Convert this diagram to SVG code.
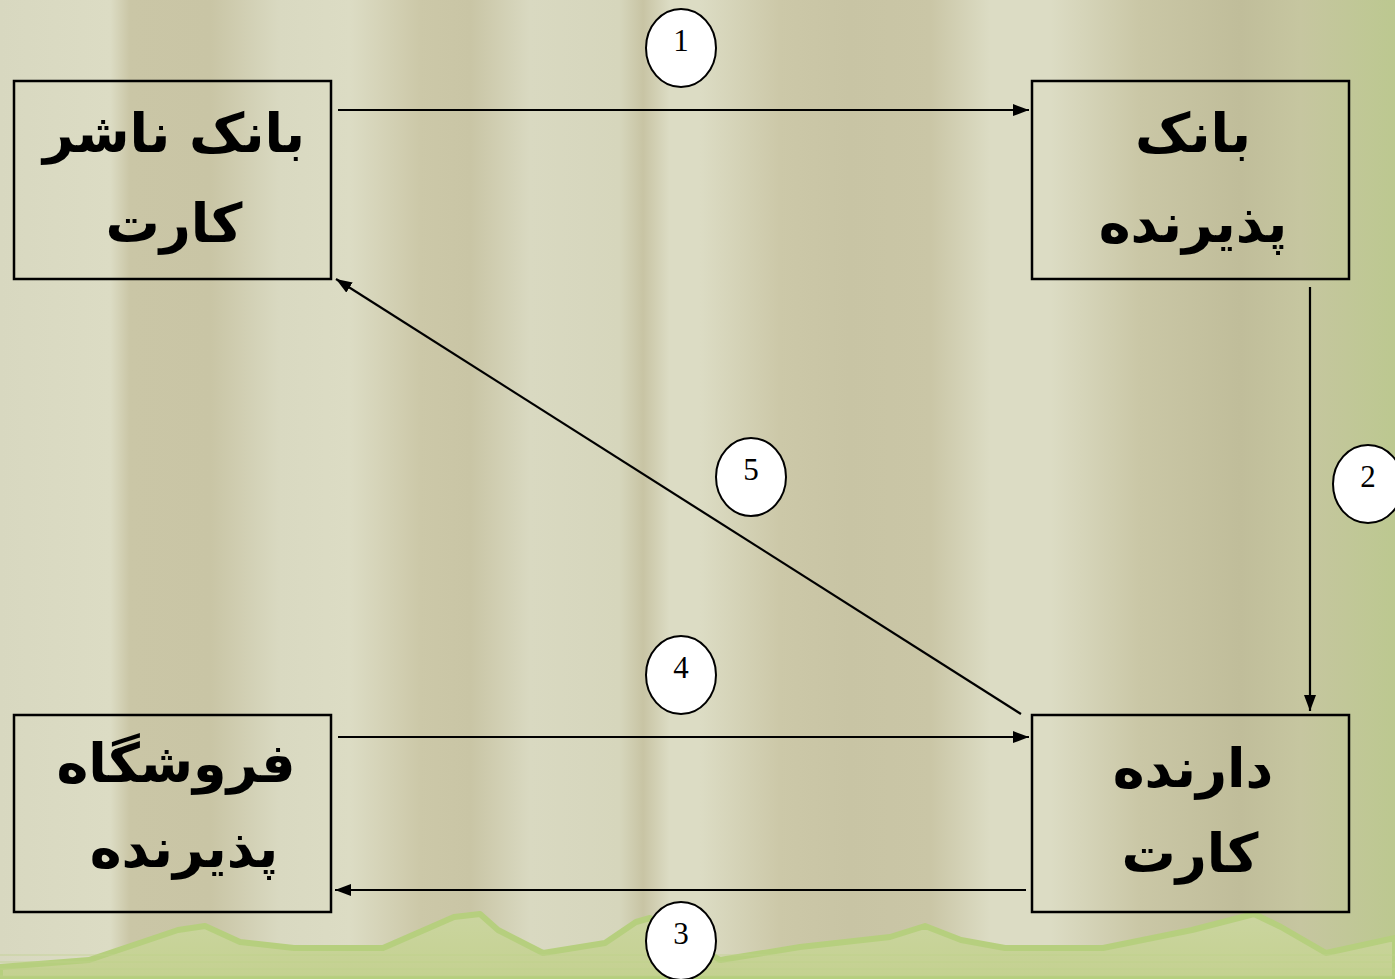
<svg xmlns="http://www.w3.org/2000/svg" width="1395" height="979" viewBox="0 0 1395 979">
<defs>
<linearGradient id="curtain" x1="0" y1="0" x2="1395" y2="0" gradientUnits="userSpaceOnUse">
<stop offset="0" stop-color="#d8d8c0"/>
<stop offset="0.079" stop-color="#dcdcc4"/>
<stop offset="0.093" stop-color="#cac6a6"/>
<stop offset="0.151" stop-color="#c9c5a5"/>
<stop offset="0.2" stop-color="#d9d9c1"/>
<stop offset="0.251" stop-color="#dcdcc4"/>
<stop offset="0.301" stop-color="#ccc8a8"/>
<stop offset="0.337" stop-color="#c9c5a5"/>
<stop offset="0.38" stop-color="#d9d9c1"/>
<stop offset="0.444" stop-color="#d6d6bc"/>
<stop offset="0.461" stop-color="#c8c4a4"/>
<stop offset="0.48" stop-color="#dcdcc4"/>
<stop offset="0.502" stop-color="#dcdcc4"/>
<stop offset="0.559" stop-color="#ccc8a8"/>
<stop offset="0.609" stop-color="#c8c4a4"/>
<stop offset="0.667" stop-color="#cac6a6"/>
<stop offset="0.71" stop-color="#dcdcc4"/>
<stop offset="0.753" stop-color="#dcdcc4"/>
<stop offset="0.817" stop-color="#cac7a6"/>
<stop offset="0.889" stop-color="#c0bd9a"/>
<stop offset="0.932" stop-color="#c6c6a0"/>
<stop offset="1" stop-color="#bcc890"/>
</linearGradient>
<linearGradient id="ground" x1="0" y1="910" x2="0" y2="979" gradientUnits="userSpaceOnUse">
<stop offset="0" stop-color="#cbd5a0"/>
<stop offset="1" stop-color="#c4d190"/>
</linearGradient>
<marker id="arr" viewBox="0 0 16 12" refX="16" refY="6" markerWidth="16" markerHeight="12" markerUnits="userSpaceOnUse" orient="auto">
<path d="M0,0 L16,6 L0,12 Z" fill="#000"/>
</marker>
<style>
.box{fill:none;stroke:#000;stroke-width:2.5}
.lbl{font-family:"DejaVu Sans","Noto Sans Arabic",sans-serif;font-weight:bold;font-size:54px;fill:#000;text-anchor:middle;direction:rtl}
.conn{stroke:#000;stroke-width:2.2;fill:none;marker-end:url(#arr)}
.num ellipse{fill:#fff;stroke:#000;stroke-width:2}
.num text{font-family:"Liberation Serif",serif;font-size:31px;fill:#000;text-anchor:middle}
</style>
</defs>
<rect x="0" y="0" width="1395" height="979" fill="url(#curtain)"/>
<g id="ground-hills">
<path d="M0,967 L89,960 L178,930 L205,926 L240,942 L294,948 L383,948 L454,917 L480,914 L498,930 L543,953 L605,943 L636,922 L650,918 L720,960 L800,947 L890,937 L925,926 L961,940 L1005,948 L1103,948 L1192,930 L1254,914 L1281,927 L1326,953 L1395,938 L1395,979 L0,979 Z" fill="url(#ground)" stroke="#b6cf7e" stroke-width="6" stroke-linejoin="round"/>
<g stroke="#bfd28a" stroke-width="1" opacity="0.7">
<line x1="0" y1="955" x2="1395" y2="955"/>
<line x1="0" y1="962" x2="1395" y2="962"/>
<line x1="0" y1="969" x2="1395" y2="969"/>
<line x1="0" y1="976" x2="1395" y2="976"/>
</g>
</g>
<g id="connectors">
<line class="conn" x1="338" y1="110" x2="1029" y2="110"/>
<line class="conn" x1="1310" y1="287" x2="1310" y2="711"/>
<line class="conn" x1="1026" y1="890" x2="335" y2="890"/>
<line class="conn" x1="338" y1="737" x2="1029" y2="737"/>
<line class="conn" x1="1021" y1="714" x2="336" y2="279"/>
</g>
<g id="node-issuer-bank">
<rect class="box" x="14" y="81" width="317" height="198"/>
<text class="lbl" x="174" y="152">بانک ناشر</text>
<text class="lbl" x="174" y="242">کارت</text>
</g>
<g id="node-acquirer-bank">
<rect class="box" x="1032" y="81" width="317" height="198"/>
<text class="lbl" x="1193" y="152">بانک</text>
<text class="lbl" x="1193" y="242">پذیرنده</text>
</g>
<g id="node-merchant">
<rect class="box" x="14" y="715" width="317" height="197"/>
<text class="lbl" x="176" y="782">فروشگاه</text>
<text class="lbl" x="184" y="867">پذیرنده</text>
</g>
<g id="node-cardholder">
<rect class="box" x="1032" y="715" width="317" height="197"/>
<text class="lbl" x="1193" y="787">دارنده</text>
<text class="lbl" x="1190" y="872">کارت</text>
</g>
<g id="label-1" class="num"><ellipse cx="681" cy="48" rx="35" ry="39"/><text x="681" y="51">1</text></g>
<g id="label-2" class="num"><ellipse cx="1368" cy="484" rx="35" ry="39"/><text x="1368" y="487">2</text></g>
<g id="label-3" class="num"><ellipse cx="681" cy="941" rx="35" ry="39"/><text x="681" y="944">3</text></g>
<g id="label-4" class="num"><ellipse cx="681" cy="675" rx="35" ry="39"/><text x="681" y="678">4</text></g>
<g id="label-5" class="num"><ellipse cx="751" cy="477" rx="35" ry="39"/><text x="751" y="480">5</text></g>
</svg>
